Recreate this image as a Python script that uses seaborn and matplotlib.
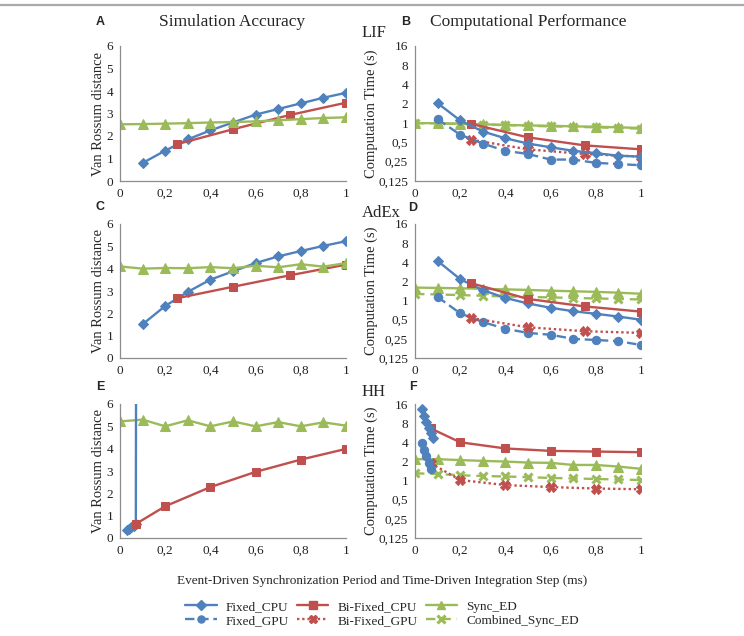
import matplotlib
matplotlib.use("Agg")
import matplotlib.pyplot as plt
import seaborn as sns
from matplotlib.lines import Line2D
from matplotlib.ticker import FixedLocator, FixedFormatter, NullLocator

# ---------------- data ----------------
x_step = [0.1, 0.2, 0.3, 0.4, 0.5, 0.6, 0.7, 0.8, 0.9, 1.0]
x_sync = [0.0, 0.1, 0.2, 0.3, 0.4, 0.5, 0.6, 0.7, 0.8, 0.9, 1.0]
x_bi = [0.25, 0.5, 0.75, 1.0]
x_hh_bi = [0.07, 0.2, 0.4, 0.6, 0.8, 1.0]
x_hh_cpu = [0.03, 0.04, 0.05, 0.06, 0.07, 0.08]
x_hh_gpu = [0.03, 0.04, 0.05, 0.06, 0.07]

# LIF accuracy (A)
lif_acc_fixed_cpu = [0.8, 1.35, 1.85, 2.25, 2.6, 2.95, 3.2, 3.45, 3.7, 3.92]
lif_acc_bi_cpu = [1.63, 2.3, 2.93, 3.48]
lif_acc_sync = [2.52, 2.53, 2.55, 2.57, 2.6, 2.62, 2.65, 2.7, 2.75, 2.8, 2.83]

# LIF time (B)
lif_t_fixed_cpu = [2.05, 1.1, 0.74, 0.58, 0.48, 0.42, 0.37, 0.34, 0.31, 0.30]
lif_t_fixed_gpu = [1.15, 0.66, 0.48, 0.37, 0.33, 0.27, 0.27, 0.24, 0.23, 0.22]
lif_t_bi_cpu = [0.97, 0.6, 0.45, 0.39]
lif_t_bi_gpu = [0.55, 0.39, 0.33, 0.30]
lif_t_sync = [1.0, 1.0, 0.98, 0.96, 0.94, 0.92, 0.91, 0.89, 0.88, 0.86, 0.84]
lif_t_comb = [1.0, 0.99, 0.97, 0.95, 0.93, 0.91, 0.89, 0.88, 0.86, 0.84, 0.82]

# AdEx accuracy (C)
adex_acc_fixed_cpu = [1.51, 2.33, 2.96, 3.51, 3.88, 4.25, 4.55, 4.79, 5.02, 5.23]
adex_acc_bi_cpu = [2.67, 3.19, 3.7, 4.18]
adex_acc_sync = [4.1, 4.0, 4.03, 4.02, 4.07, 4.02, 4.13, 4.06, 4.2, 4.09, 4.25]

# AdEx time (D)
adex_t_fixed_cpu = [4.2, 2.17, 1.46, 1.1, 0.9, 0.77, 0.68, 0.62, 0.56, 0.5]
adex_t_fixed_gpu = [1.14, 0.63, 0.46, 0.36, 0.31, 0.29, 0.25, 0.24, 0.23, 0.2]
adex_t_bi_cpu = [1.87, 1.06, 0.81, 0.67]
adex_t_bi_gpu = [0.53, 0.38, 0.33, 0.31]
adex_t_sync = [1.6, 1.58, 1.56, 1.53, 1.5, 1.47, 1.43, 1.4, 1.37, 1.33, 1.28]
adex_t_comb = [1.27, 1.25, 1.22, 1.19, 1.16, 1.14, 1.12, 1.1, 1.08, 1.06, 1.04]

# HH accuracy (E)
hh_acc_fixed_cpu = [0.35, 0.42, 0.48, 0.55, 0.62, 60.0]
hh_acc_bi_cpu = [0.63, 1.42, 2.28, 2.96, 3.51, 3.99]
hh_acc_sync = [5.22, 5.3, 5.0, 5.27, 5.0, 5.22, 5.0, 5.19, 5.0, 5.18, 5.03]

# HH time (F)
hh_t_fixed_cpu = [13.3, 10.4, 8.2, 6.6, 5.6, 4.6]
hh_t_fixed_gpu = [3.9, 3.0, 2.4, 1.9, 1.5]
hh_t_bi_cpu = [6.6, 4.0, 3.2, 2.93, 2.86, 2.79]
hh_t_bi_gpu = [1.87, 1.02, 0.85, 0.79, 0.75, 0.73]
hh_t_sync = [2.17, 2.17, 2.1, 2.04, 1.99, 1.92, 1.9, 1.76, 1.76, 1.66, 1.53]
hh_t_comb = [1.3, 1.27, 1.21, 1.18, 1.16, 1.13, 1.1, 1.08, 1.06, 1.04, 1.02]

series_names = ["Fixed_CPU", "Fixed_GPU", "Bi-Fixed_CPU", "Bi-Fixed_GPU",
                "Sync_ED", "Combined_Sync_ED"]
x_ticks = [0, 0.2, 0.4, 0.6, 0.8, 1]
x_tick_labels = ["0", "0,2", "0,4", "0,6", "0,8", "1"]
acc_ticks = [0, 1, 2, 3, 4, 5, 6]
time_ticks = [0.125, 0.25, 0.5, 1, 2, 4, 8, 16]
time_tick_labels = ["0,125", "0,25", "0,5", "1", "2", "4", "8", "16"]

# ---------------- style ----------------
sns.set_style("white")
plt.rcParams["font.family"] = ["Liberation Serif", "DejaVu Serif"]

BLUE = "#4F81BD"
RED = "#C0504D"
GREEN = "#9BBB59"
SPINE = "#8c8c8c"

STY = {
    "Fixed_CPU": dict(color=BLUE, marker="D", linestyle="-", markersize=5.5),
    "Fixed_GPU": dict(color=BLUE, marker="o", linestyle=(0, (4, 2)), markersize=6),
    "Bi-Fixed_CPU": dict(color=RED, marker="s", linestyle="-", markersize=6),
    "Bi-Fixed_GPU": dict(color=RED, marker="X", linestyle=(0, (1, 1.2)), markersize=7),
    "Sync_ED": dict(color=GREEN, marker="^", linestyle="-", markersize=7),
    "Combined_Sync_ED": dict(color=GREEN, marker="x", linestyle=(0, (4, 2.5)), markersize=6,
                             markeredgewidth=2.2),
}

W, H = 744, 636
fig = plt.figure(figsize=(W / 100, H / 100), dpi=100)

def ax_at(left, top, right, bottom):
    return fig.add_axes([left / W, 1 - bottom / H, (right - left) / W, (bottom - top) / H])

rows = [(46, 181), (224, 358), (404, 538)]
axA = ax_at(120, rows[0][0], 346, rows[0][1])
axB = ax_at(415, rows[0][0], 641, rows[0][1])
axC = ax_at(120, rows[1][0], 346, rows[1][1])
axD = ax_at(415, rows[1][0], 641, rows[1][1])
axE = ax_at(120, rows[2][0], 346, rows[2][1])
axF = ax_at(415, rows[2][0], 641, rows[2][1])

def draw(ax, name, xs, ys):
    st = dict(STY[name])
    kw = dict(color=st.pop("color"), marker=st.pop("marker"), linestyle=st.pop("linestyle"),
              markersize=st.pop("markersize"), linewidth=1.7)
    kw["markeredgecolor"] = kw["color"]
    kw.update(st)
    sns.lineplot(x=xs, y=ys, ax=ax, legend=False, sort=False, estimator=None, **kw)

def style_axes(ax, log):
    for s in ["top", "right"]:
        ax.spines[s].set_visible(False)
    for s in ["left", "bottom"]:
        ax.spines[s].set_color(SPINE)
        ax.spines[s].set_linewidth(0.9)
    ax.set_xlim(0, 1)
    ax.xaxis.set_major_locator(FixedLocator(x_ticks))
    ax.xaxis.set_major_formatter(FixedFormatter(x_tick_labels))
    if log:
        ax.set_yscale("log", base=2)
        ax.set_ylim(0.125, 16)
        ax.yaxis.set_major_locator(FixedLocator(time_ticks))
        ax.yaxis.set_major_formatter(FixedFormatter(time_tick_labels))
        ax.yaxis.set_minor_locator(NullLocator())
        ax.set_ylabel("Computation Time (s)", fontsize=10.5, labelpad=0)
    else:
        ax.set_ylim(0, 6)
        ax.yaxis.set_major_locator(FixedLocator(acc_ticks))
        ax.set_ylabel("Van Rossum distance", fontsize=10.5, labelpad=1)
    ax.tick_params(axis="both", which="major", labelsize=9.5, direction="out", length=3,
                   width=0.8, color=SPINE, pad=2, labelcolor="#222222")
    ax.set_xlabel("")

# A
draw(axA, "Fixed_CPU", x_step, lif_acc_fixed_cpu)
draw(axA, "Bi-Fixed_CPU", x_bi, lif_acc_bi_cpu)
draw(axA, "Sync_ED", x_sync, lif_acc_sync)
# B
draw(axB, "Sync_ED", x_sync, lif_t_sync)
draw(axB, "Combined_Sync_ED", x_sync, lif_t_comb)
draw(axB, "Bi-Fixed_CPU", x_bi, lif_t_bi_cpu)
draw(axB, "Bi-Fixed_GPU", x_bi, lif_t_bi_gpu)
draw(axB, "Fixed_CPU", x_step, lif_t_fixed_cpu)
draw(axB, "Fixed_GPU", x_step, lif_t_fixed_gpu)
# C
draw(axC, "Fixed_CPU", x_step, adex_acc_fixed_cpu)
draw(axC, "Bi-Fixed_CPU", x_bi, adex_acc_bi_cpu)
draw(axC, "Sync_ED", x_sync, adex_acc_sync)
# D
draw(axD, "Sync_ED", x_sync, adex_t_sync)
draw(axD, "Combined_Sync_ED", x_sync, adex_t_comb)
draw(axD, "Fixed_CPU", x_step, adex_t_fixed_cpu)
draw(axD, "Fixed_GPU", x_step, adex_t_fixed_gpu)
draw(axD, "Bi-Fixed_CPU", x_bi, adex_t_bi_cpu)
draw(axD, "Bi-Fixed_GPU", x_bi, adex_t_bi_gpu)
# E
draw(axE, "Sync_ED", x_sync, hh_acc_sync)
draw(axE, "Fixed_CPU", x_hh_cpu, hh_acc_fixed_cpu)
draw(axE, "Bi-Fixed_CPU", x_hh_bi, hh_acc_bi_cpu)
# F
draw(axF, "Sync_ED", x_sync, hh_t_sync)
draw(axF, "Combined_Sync_ED", x_sync, hh_t_comb)
draw(axF, "Bi-Fixed_GPU", x_hh_bi, hh_t_bi_gpu)
draw(axF, "Bi-Fixed_CPU", x_hh_bi, hh_t_bi_cpu)
draw(axF, "Fixed_GPU", x_hh_gpu, hh_t_fixed_gpu)
draw(axF, "Fixed_CPU", x_hh_cpu, hh_t_fixed_cpu)

for ax in (axA, axC, axE):
    style_axes(ax, False)
for ax in (axB, axD, axF):
    style_axes(ax, True)

# Texts
def ftext(x, y, s, **kw):
    fig.text(x / W, 1 - y / H, s, **kw)

letter_kw = dict(fontsize=9, fontweight="bold", family=["Liberation Sans", "DejaVu Sans"],
                 ha="center", va="center")
ftext(100, 22, "A", **letter_kw)
ftext(406, 22, "B", **letter_kw)
ftext(100, 207, "C", **letter_kw)
ftext(413, 208, "D", **letter_kw)
ftext(100, 387, "E", **letter_kw)
ftext(413, 387, "F", **letter_kw)

ftext(232, 22, "Simulation Accuracy", fontsize=12.5, ha="center", va="center")
ftext(528, 22, "Computational Performance", fontsize=12.5, ha="center", va="center")
ftext(362, 33, "LIF", fontsize=12, ha="left", va="center")
ftext(362, 213, "AdEx", fontsize=12, ha="left", va="center")
ftext(362, 392, "HH", fontsize=12, ha="left", va="center")

ftext(382, 581, "Event-Driven Synchronization Period and Time-Driven Integration Step (ms)",
      fontsize=9.5, ha="center", va="center")

# Legend
handles = []
for name in series_names:
    st = dict(STY[name])
    c = st.pop("color")
    h = Line2D([], [], color=c, marker=st.pop("marker"), linestyle=st.pop("linestyle"),
               markersize=st.pop("markersize") * 0.85, linewidth=1.7, markeredgecolor=c, **st)
    handles.append(h)
fig.legend(handles, series_names, loc="upper center", bbox_to_anchor=(382 / W, 1 - 594 / H),
           ncol=3, frameon=False, fontsize=9.5, handlelength=2.4, handletextpad=0.7,
           columnspacing=0.6, labelspacing=0.15, borderpad=0)

# top gray rule
fig.add_artist(Line2D([0, 1], [1 - 4.5 / H, 1 - 4.5 / H], transform=fig.transFigure,
                      color="#a9a9a9", linewidth=1.6))

fig.savefig("out.png", dpi=100)
